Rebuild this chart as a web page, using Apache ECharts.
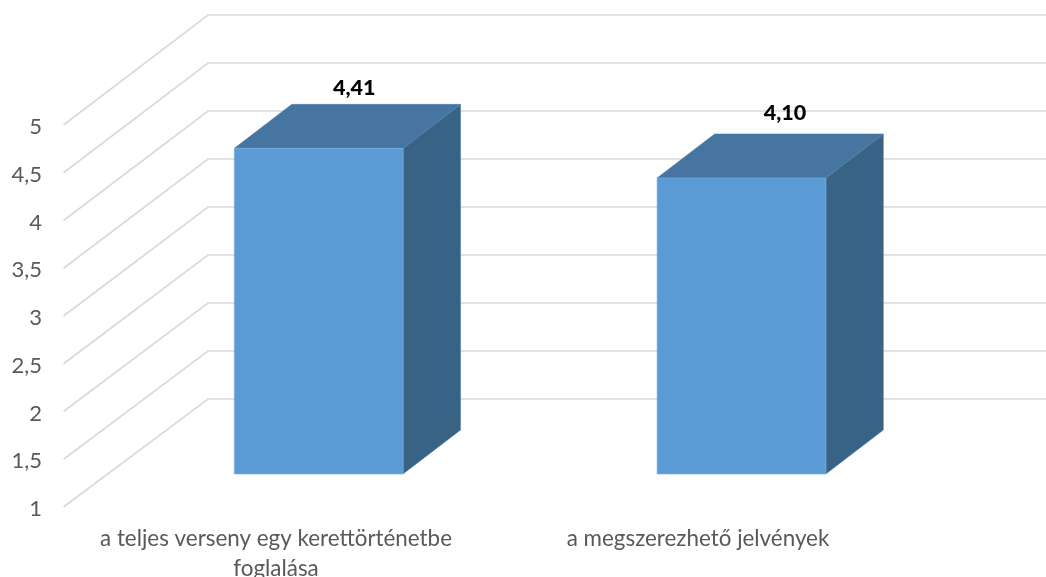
<!DOCTYPE html>
<html>
<head>
<meta charset="utf-8">
<style>html,body{margin:0;padding:0;background:#fff}#c{width:1046px;height:577px}</style>
<script src="https://cdn.jsdelivr.net/npm/echarts@6/dist/echarts.min.js"></script>
</head>
<body>
<div id="c"></div>
<script>
const categories = ['a teljes verseny egy kerettörténetbe\nfoglalása', 'a megszerezhető jelvények'];
const values = [4.41, 4.10];
const valueLabels = ['4,41', '4,10'];
const ticks = [1, 1.5, 2, 2.5, 3, 3.5, 4, 4.5, 5];

// 3D projection styling (pixels)
const WALL_DX = 144.5, WALL_DY = 108, WALL_RATIO = 384 / 382, WALL_LEFT_PAD = 1.5, WALL_RIGHT_PAD = -7;
const BAR_RATIO = 0.4, BAR_DX = 57.5, BAR_DY = 44;
const BAR_SHIFT = [[42.7, -33], [43.5, -33]];
const LABEL_SHIFT = [[35.5, -60], [43.5, -64.5]];
const FONT = 'Lato, "Open Sans", sans-serif';

const chart = echarts.init(document.getElementById('c'), null, {renderer: 'canvas'});

function renderWalls(params, api) {
  const v = api.value(0);
  const p = api.coord([0, v]);
  const floor = api.coord([0, 1])[1];
  const band = api.size([1, 0])[0];
  const left = p[0] - band / 2 - WALL_LEFT_PAD;
  const right = p[0] + band * 1.5 + WALL_RIGHT_PAD;
  const by = floor - WALL_DY - (floor - p[1]) * WALL_RATIO;
  const bx = left + WALL_DX;
  return {
    type: 'polyline',
    shape: {points: [[left, p[1]], [bx, by], [right + WALL_DX, by]]},
    style: {fill: null, stroke: '#D9D9D9', lineWidth: 1.6},
    silent: true
  };
}

function renderBar(params, api) {
  const i = api.value(0);
  const s = BAR_SHIFT[i];
  const top = api.coord([i, api.value(1)]);
  const base = api.coord([i, 1]);
  const w = api.size([1, 0])[0] * BAR_RATIO;
  const x0 = top[0] + s[0] - w / 2, x1 = x0 + w;
  const y0 = top[1] + s[1], y1 = base[1] + s[1];
  const ls = LABEL_SHIFT[i];
  return {
    type: 'group',
    children: [
      {type: 'polygon', shape: {points: [[x1, y0], [x1 + BAR_DX, y0 - BAR_DY], [x1 + BAR_DX, y1 - BAR_DY], [x1, y1]]},
        style: {fill: '#396384', stroke: '#5f86a6', lineWidth: 0.5}},
      {type: 'polygon', shape: {points: [[x0, y0], [x0 + BAR_DX, y0 - BAR_DY], [x1 + BAR_DX, y0 - BAR_DY], [x1, y0]]},
        style: {fill: '#4675A1', stroke: '#4a7aa6', lineWidth: 0.5}},
      {type: 'rect', shape: {x: x0, y: y0, width: w, height: y1 - y0},
        style: {fill: '#5B9BD5', stroke: '#7DB0E0', lineWidth: 0.6}},
      {type: 'text', x: top[0] + s[0] + ls[0], y: y0 + ls[1],
        style: {text: valueLabels[i], fill: '#000', font: '900 21.5px ' + FONT, align: 'center', verticalAlign: 'middle'}}
    ]
  };
}

chart.setOption({
  animation: false,
  grid: {left: 65, width: 844, top: 125, height: 382, containLabel: false, outerBoundsMode: 'none'},
  xAxis: {
    type: 'category',
    data: categories,
    axisLine: {show: false},
    axisTick: {show: false},
    axisLabel: {color: '#595959', fontFamily: FONT, fontSize: 22.4, lineHeight: 30, margin: 17, interval: 0}
  },
  yAxis: {
    type: 'value',
    min: 1, max: 5, interval: 0.5,
    axisLine: {show: false},
    axisTick: {show: false},
    splitLine: {show: false},
    axisLabel: {color: '#595959', fontFamily: FONT, fontSize: 22, margin: 23, verticalAlign: 'top', lineHeight: 4,
      formatter: v => String(v).replace('.', ',')}
  },
  series: [
    {type: 'custom', coordinateSystem: 'cartesian2d', clip: false, z: 1, silent: true,
      renderItem: renderWalls, encode: {y: 0}, data: ticks.map(t => [t])},
    {type: 'custom', coordinateSystem: 'cartesian2d', clip: false, z: 2, silent: true,
      renderItem: renderBar, encode: {x: 0, y: 1}, data: values.map((v, i) => [i, v])}
  ]
});
</script>
</body>
</html>
